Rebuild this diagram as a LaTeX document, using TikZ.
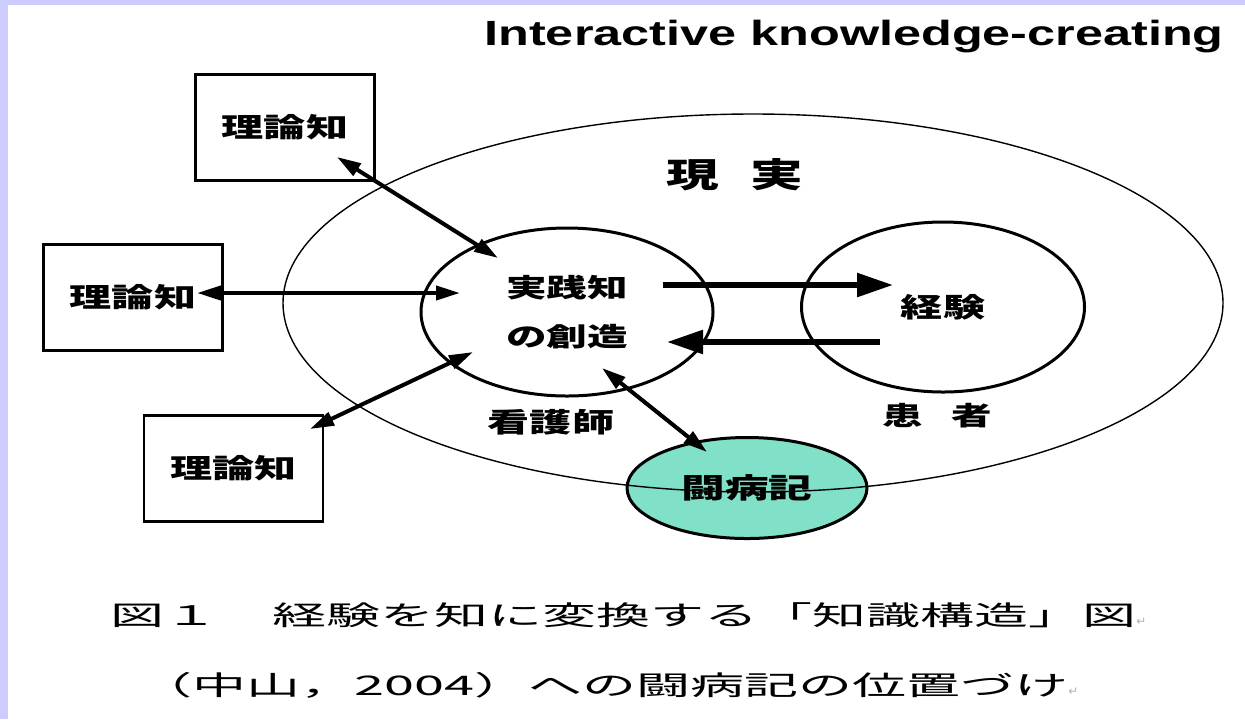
\documentclass[tikz,border=0pt]{standalone}
\usepackage{fontspec}
\usepackage{xcolor}
\usetikzlibrary{shapes.geometric, arrows.meta}
\newfontfamily\gothic{Noto Sans CJK JP}
\newfontfamily\headfont{Liberation Sans}
\newfontfamily\symfont{DejaVu Sans}
\definecolor{framecolor}{HTML}{CCCCFF}
\definecolor{diarycolor}{HTML}{80E0C8}
\newcommand{\stretchx}[2][1.56]{\scalebox{#1}[1]{#2}}

\begin{document}
\begin{tikzpicture}[x = 0.5pt, y = -0.5pt,
        lbl/.style = {inner sep = 0pt, font = \gothic\bfseries\fontsize{13.5pt}{16pt}\selectfont},
        theory/.style = {lbl, draw, rectangle, line width = 1.4pt, minimum width = 89.5pt, minimum height = 53pt},
        blob/.style = {lbl, draw, ellipse, line width = 1.5pt},
        link/.style = {<->, > = {Triangle[length = 12pt, width = 7pt]}, line width = 2pt},
        flow/.style = {->, > = {Triangle[length = 18pt, width = 11.5pt]}, line width = 2.8pt},
        captionline/.style = {anchor = west, inner sep = 0pt, font = \gothic\fontsize{13.5pt}{16pt}\selectfont}]
        \useasboundingbox (0, 0) rectangle (1245, 719);
        \fill [framecolor] (0, 0) rectangle (1245, 719);
        \fill [white] (8, 5) rectangle (1245, 719);

        % Title
        \node [anchor = base west, inner sep = 0pt, font = \headfont\bfseries\fontsize{17.5pt}{20pt}\selectfont] (title) at (484, 45) {\stretchx[1.44]{Interactive knowledge-creating}};

        % Nodes
        \node [theory] (theoryA) at (285, 127.5) {\stretchx{理論知}};
        \node [theory] (theoryB) at (133, 297.5) {\stretchx{理論知}};
        \node [theory] (theoryC) at (233.5, 468.5) {\stretchx{理論知}};
        \node [blob, align = center, minimum width = 146pt, minimum height = 84pt, font = \gothic\bfseries\fontsize{13pt}{24.5pt}\selectfont] (practice) at (567, 312) {\stretchx{実践知}\\\stretchx{の創造}};
        \node [blob, minimum width = 141.5pt, minimum height = 85pt] (experience) at (943, 307) {\stretchx{経験}};
        \node [blob, fill = diarycolor, minimum width = 120pt, minimum height = 50.5pt, font = \gothic\bfseries\fontsize{14pt}{16pt}\selectfont] (diary) at (747, 488) {\stretchx{闘病記}};
        \node [draw, ellipse, line width = 0.7pt, minimum width = 470pt, minimum height = 189pt] (real) at (753, 303) {};

        % Labels
        \node [lbl, font = \gothic\bfseries\fontsize{17pt}{20pt}\selectfont] (reallabel) at (735, 175) {\stretchx[1.55]{現\hspace{0.6em}実}};
        \node [lbl] (nurse) at (551, 422) {\stretchx{看護師}};
        \node [lbl, font = \gothic\bfseries\fontsize{13pt}{16pt}\selectfont] (patient) at (937, 416) {\stretchx{患\hspace{0.7em}者}};

        % Arrow ends
        \coordinate (endA) at (337, 157);
        \coordinate (endB) at (197, 293);
        \coordinate (endC) at (310, 429);
        \coordinate (inA) at (498, 258);
        \coordinate (inB) at (460, 293);
        \coordinate (inC) at (473, 352);
        \coordinate (inD) at (602, 368);
        \coordinate (endD) at (707, 452);
        \coordinate (outP) at (663, 285);
        \coordinate (inE) at (893, 285);
        \coordinate (outE) at (880, 342);
        \coordinate (inP) at (667, 342);

        % Draw the links
        \draw [link] (endA) -- (inA);
        \draw [link] (endB) -- (inB);
        \draw [link] (endC) -- (inC);
        \draw [link] (inD) -- (endD);
        \draw [flow] (outP) -- (inE);
        \draw [flow] (outE) -- (inP);

        % Caption
        \node [captionline] (capA) at (110, 615) {\stretchx[2.0]{図１　経験を知に変換する「知識構造」図}{\symfont\fontsize{6pt}{7pt}\selectfont\color{gray!60}↵}};
        \node [captionline] (capB) at (138, 685) {\stretchx[2.0]{（中山，2004）への闘病記の位置づけ}{\symfont\fontsize{6pt}{7pt}\selectfont\color{gray!60}↵}};
    \end{tikzpicture}
\end{document}
